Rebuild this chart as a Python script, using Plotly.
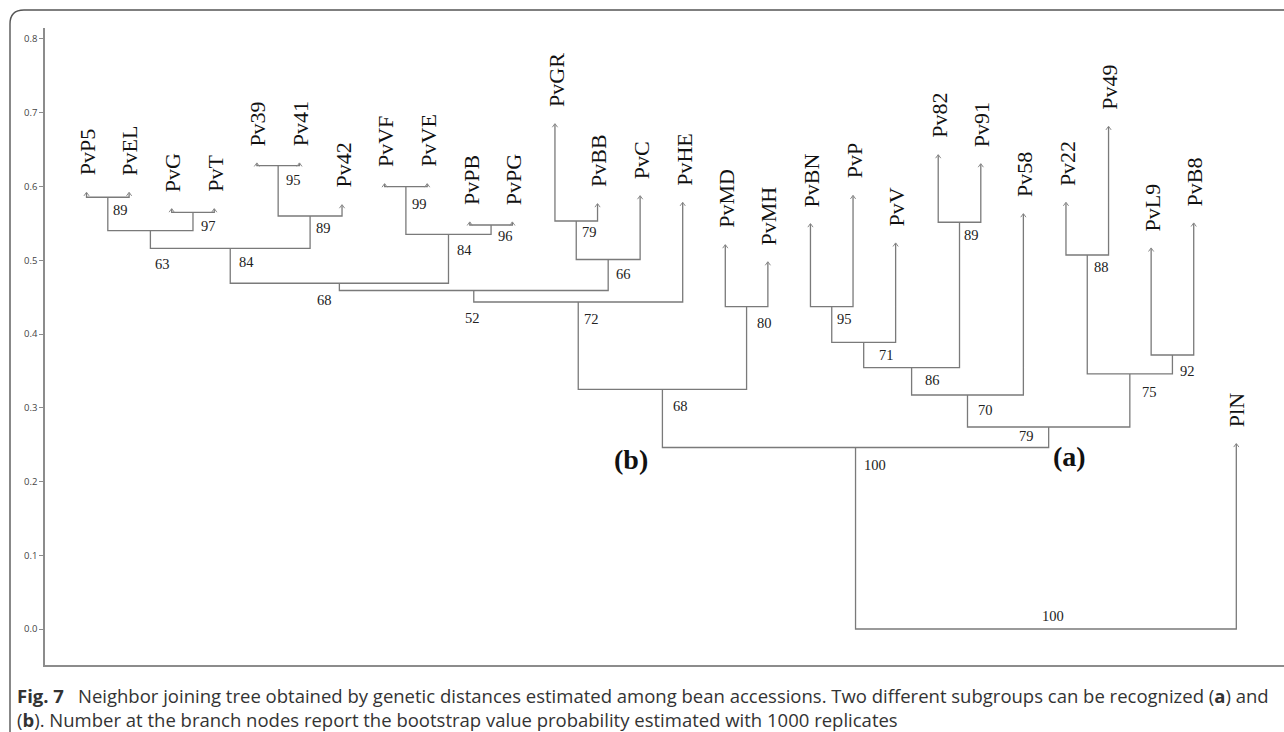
import plotly.graph_objects as go

# ---------------- data ----------------
leaves = ["PvP5", "PvEL", "PvG", "PvT", "Pv39", "Pv41", "Pv42", "PvVF", "PvVE",
          "PvPB", "PvPG", "PvGR", "PvBB", "PvC", "PvHE", "PvMD", "PvMH", "PvBN",
          "PvP", "PvV", "Pv82", "Pv91", "Pv58", "Pv22", "Pv49", "PvL9", "PvB8", "PlN"]
leaf_heights = [0.5916, 0.5916, 0.5695, 0.5695, 0.6315, 0.6315, 0.5749, 0.6034, 0.6034,
                0.5515, 0.5515, 0.6847, 0.5763, 0.5871, 0.5781, 0.5207, 0.4975, 0.5492,
                0.5875, 0.5230, 0.6427, 0.6305, 0.5627, 0.5781, 0.6811, 0.5162, 0.5501, 0.2510]

node_names = ["n1", "n2", "n3", "n4", "n5", "n6", "n7", "n8", "n9", "n10", "n11", "n12",
              "n13", "n14", "n15", "n16", "m1", "m2", "m3", "m4", "m5", "m6", "m7", "m8",
              "m9", "root1", "root"]
node_left = ["PvP5", "PvG", "n1", "Pv39", "n4", "n3", "PvVF", "PvPB", "n7", "n6", "PvGR", "n11",
             "n10", "n13", "PvMD", "n14", "PvBN", "m1", "Pv82", "m2", "m4", "Pv22", "PvL9", "m6",
             "m5", "n16", "root1"]
node_right = ["PvEL", "PvT", "n2", "Pv41", "Pv42", "n5", "PvVE", "PvPG", "n8", "n9", "PvBB", "PvC",
              "n12", "PvHE", "PvMH", "n15", "PvP", "PvV", "Pv91", "m3", "Pv58", "Pv49", "PvB8", "m7",
              "m8", "m9", "PlN"]
node_heights = [0.5854, 0.5650, 0.5401, 0.6282, 0.5600, 0.5162, 0.5997, 0.5478, 0.5352, 0.4688,
                0.5532, 0.5010, 0.4590, 0.4434, 0.4370, 0.3250, 0.4370, 0.3887, 0.5515, 0.3543,
                0.3173, 0.5071, 0.3715, 0.3458, 0.2739, 0.2461, 0.0]
node_bootstrap = [89, 97, 63, 95, 89, 84, 99, 96, 84, 68, 79, 66, 52, 72, 80, 68,
                  95, 71, 89, 86, 70, 88, 92, 75, 79, 100, 100]

y_tick_vals = [0.0, 0.1, 0.2, 0.3, 0.4, 0.5, 0.6, 0.7, 0.8]
y_tick_text = ["0.0", "0.1", "0.2", "0.3", "0.4", "0.5", "0.6", "0.7", "0.8"]

group_labels = ["(b)", "(a)"]
group_nodes = ["n16", "m9"]

caption_line1 = ("<b>Fig. 7</b>\u2002 Neighbor joining tree obtained by genetic distances estimated among "
                 "bean accessions. Two different subgroups can be recognized (<b>a</b>) and")
caption_line2 = ("(<b>b</b>). Number at the branch nodes report the bootstrap value probability "
                 "estimated with 1000 replicates")

# ---------------- layout / style ----------------
W, H = 1284, 732
ML, MR, MT, MB = 45, 0, 28, 67
XMIN, XMAX = -0.975, 28.12
YMIN, YMAX = -0.0488, 0.8149
LINE_COL = "#7a7a7a"
SERIF = "Liberation Serif, Times New Roman, serif"

# label offsets in pixels (dx right, dy down) relative to each node
label_offsets = {
    "n1": (13, 14), "n2": (16, 15), "n3": (12, 34), "n4": (15, 15), "n5": (13, 13),
    "n6": (16, 15), "n7": (14, 18), "n8": (14, 12), "n9": (16, 17), "n10": (-15, 18),
    "n11": (13, 12), "n12": (15, 15), "n13": (-1, 29), "n14": (13, 18), "n15": (18, 17),
    "n16": (18, 18), "m1": (13, 13), "m2": (23, 14), "m3": (12, 14), "m4": (21, 13),
    "m5": (18, 16), "m6": (14, 13), "m7": (15, 17), "m8": (20, 19), "m9": (-22, 10),
    "root1": (19, 18), "root": (7, -12),
}
group_offsets = [(-31, 12), (21, 9)]

plot_w = W - ML - MR
plot_h = H - MT - MB
px_x = plot_w / (XMAX - XMIN)
px_y = plot_h / (YMAX - YMIN)

# ---------------- tree geometry ----------------
xpos = {name: float(i) for i, name in enumerate(leaves)}
ypos = {name: h for name, h in zip(leaves, leaf_heights)}
for name, l, r, h in zip(node_names, node_left, node_right, node_heights):
    xpos[name] = (xpos[l] + xpos[r]) / 2.0
    ypos[name] = h

lx, ly = [], []
for name, l, r in zip(node_names, node_left, node_right):
    h = ypos[name]
    lx += [xpos[l], xpos[l], xpos[r], xpos[r], None]
    ly += [ypos[l], h, h, ypos[r], None]

cw = 2.6 / px_x
ch = 3.2 / px_y
cx, cy = [], []
for name in leaves:
    x, y = xpos[name], ypos[name]
    cx += [x - cw, x, x + cw, None]
    cy += [y - ch, y + 0.4 / px_y, y - ch, None]

fig = go.Figure()
fig.add_trace(go.Scatter(x=lx, y=ly, mode="lines", line=dict(color=LINE_COL, width=1.3),
                         hoverinfo="skip", showlegend=False))
fig.add_trace(go.Scatter(x=cx, y=cy, mode="lines", line=dict(color="#8a8a8a", width=1),
                         hoverinfo="skip", showlegend=False))

ann = []
for name in leaves:
    ann.append(dict(x=xpos[name], y=ypos[name], text=name, textangle=-90, showarrow=False,
                    xanchor="center", yanchor="bottom", yshift=15, xshift=1,
                    font=dict(family=SERIF, size=22, color="#111")))
for name, bs in zip(node_names, node_bootstrap):
    dx, dy = label_offsets[name]
    ann.append(dict(x=xpos[name], y=ypos[name], text=str(bs), showarrow=False,
                    xanchor="center", yanchor="middle", xshift=dx, yshift=-dy + 1,
                    font=dict(family=SERIF, size=14.5, color="#222")))
for lab, gn, (dx, dy) in zip(group_labels, group_nodes, group_offsets):
    ann.append(dict(x=xpos[gn], y=ypos["root1"], text="<b>" + lab + "</b>", showarrow=False,
                    xanchor="center", yanchor="middle", xshift=dx, yshift=-dy,
                    font=dict(family=SERIF, size=28, color="#111")))


def to_paper(px, py):
    return (px - ML) / plot_w, (H - MB - py) / plot_h


cap_font = dict(family="Open Sans, sans-serif", size=18.5, color="#333")
x0, yc = to_paper(15, 708)
ann.append(dict(xref="paper", yref="paper", x=x0, y=yc,
                text=caption_line1 + "<br>" + caption_line2, showarrow=False, align="left",
                xanchor="left", yanchor="middle", font=cap_font))

# outer rounded frame
r = 14
pts = [to_paper(10, 760), to_paper(10, 10 + r), to_paper(10, 10), to_paper(10 + r, 10), to_paper(1300, 10)]
path = "M{:.5f},{:.5f} L{:.5f},{:.5f} Q{:.5f},{:.5f} {:.5f},{:.5f} L{:.5f},{:.5f}".format(
    pts[0][0], pts[0][1], pts[1][0], pts[1][1], pts[2][0], pts[2][1], pts[3][0], pts[3][1],
    pts[4][0], pts[4][1])
shapes = [dict(type="path", xref="paper", yref="paper", path=path,
               line=dict(color="#555", width=1.4), fillcolor="rgba(0,0,0,0)", layer="above")]

fig.update_layout(
    width=W, height=H, autosize=False,
    margin=dict(l=ML, r=MR, t=MT, b=MB, pad=0),
    paper_bgcolor="white", plot_bgcolor="white",
    showlegend=False,
    annotations=ann, shapes=shapes,
    xaxis=dict(range=[XMIN, XMAX], showgrid=False, zeroline=False, showticklabels=False,
               ticks="", showline=True, linecolor="#8c8c8c", linewidth=1.5, fixedrange=True),
    yaxis=dict(range=[YMIN, YMAX], showgrid=False, zeroline=False, tickvals=y_tick_vals,
               ticktext=y_tick_text, ticks="outside", ticklen=4, tickcolor="#8c8c8c",
               tickwidth=1, showline=True, linecolor="#8c8c8c", linewidth=1.5,
               tickfont=dict(family="Open Sans, sans-serif", size=9.5, color="#444"),
               fixedrange=True),
)

fig.write_html("out.html")
